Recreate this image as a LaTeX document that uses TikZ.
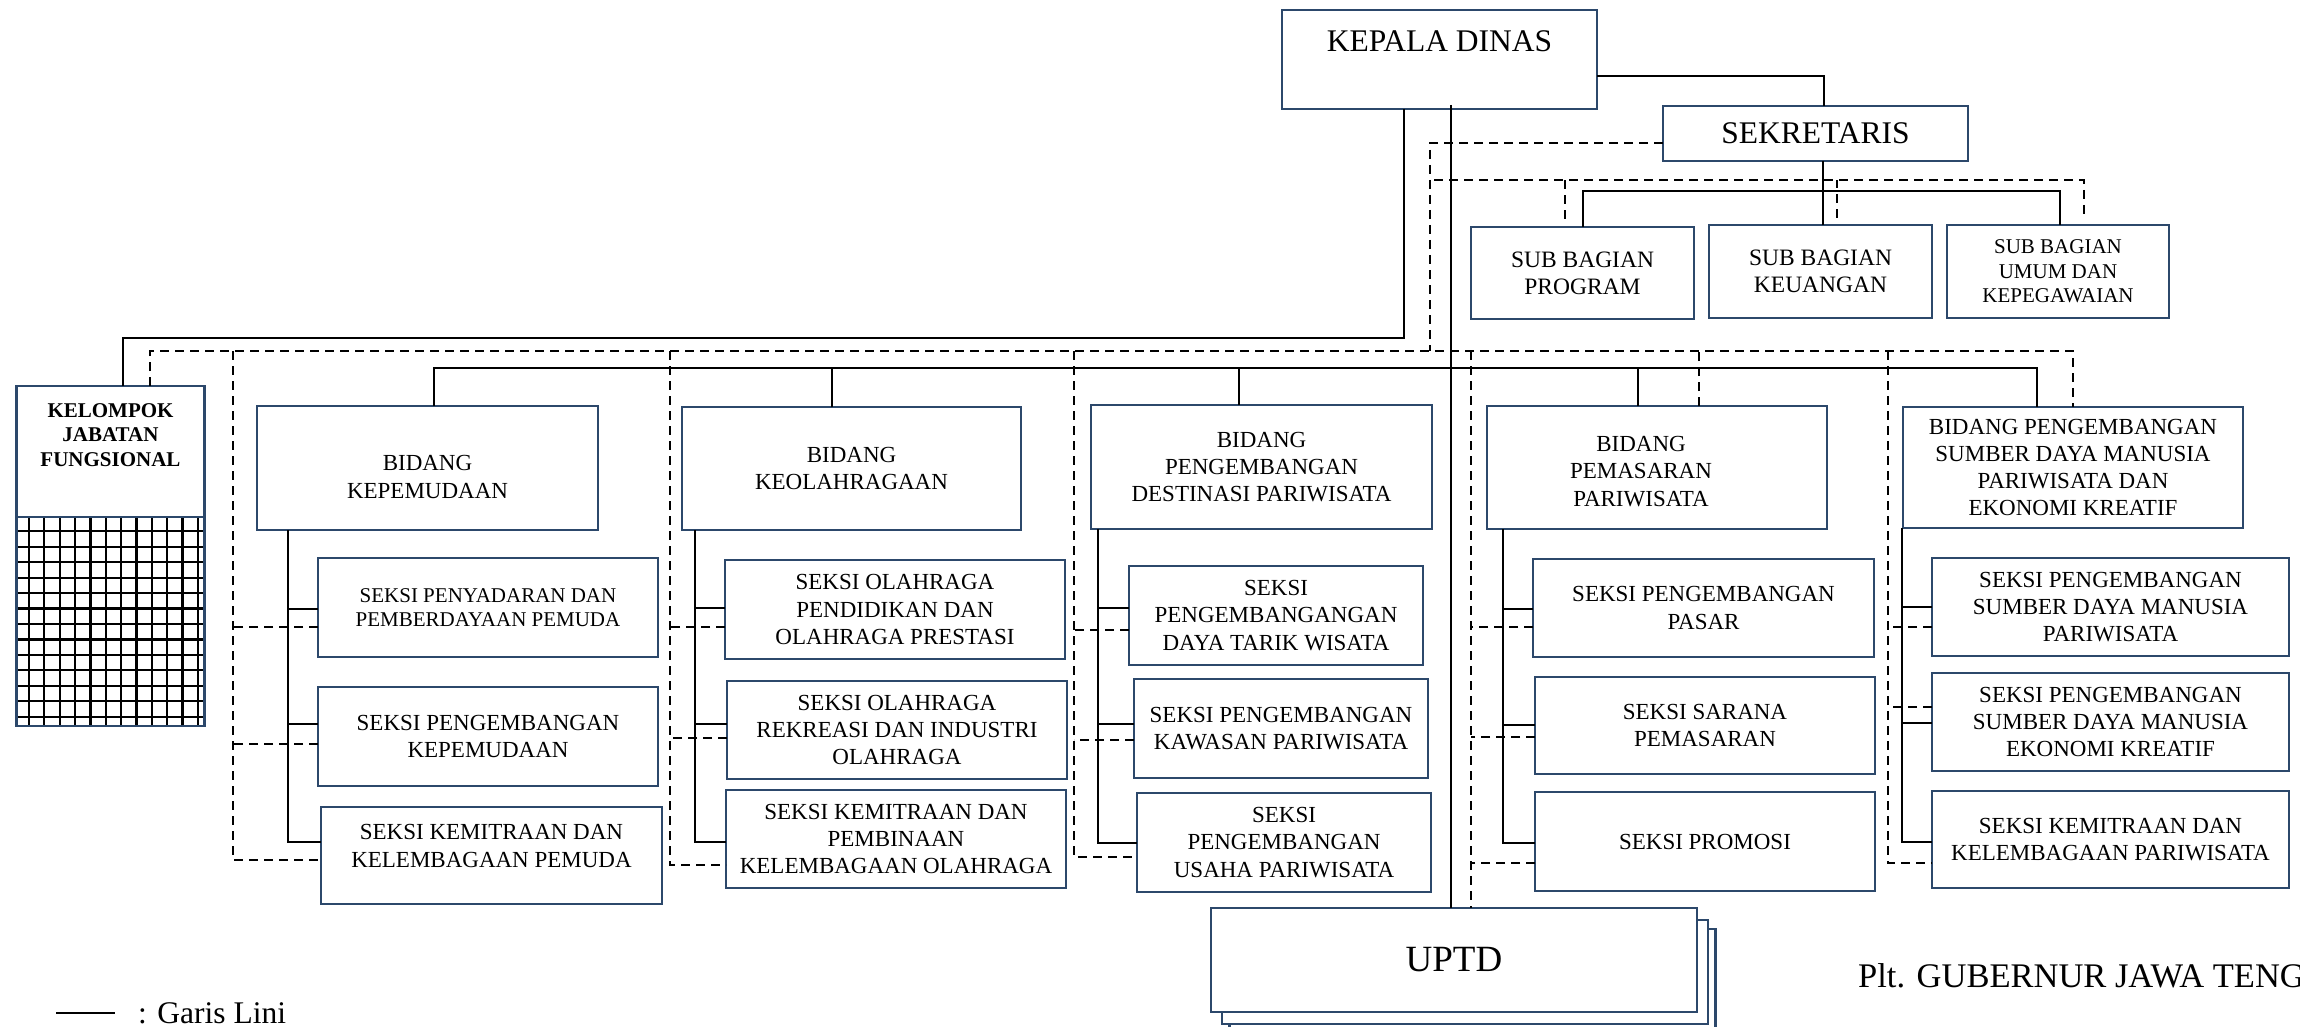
\documentclass[tikz,border=0pt]{standalone}
\usepackage{fontspec}
\setmainfont{Liberation Serif}
\usetikzlibrary{positioning}
\definecolor{boxline}{RGB}{44,72,107}

\begin{document}
\begin{tikzpicture}[x=1pt, y=-1pt,
  box/.style={draw=boxline, line width=2.6pt, fill=white, align=center, inner sep=0pt, outer sep=0pt, font=\fontsize{23}{27.3}\selectfont},
  wh/.style 2 args={minimum width=#1, minimum height=#2},
  txt/.style={align=center, inner sep=0pt, font=\fontsize{23}{27.3}\selectfont},
  line/.style={line width=2pt},
  dline/.style={line width=2pt, dash pattern=on 9pt off 6pt},
  gridline/.style={line width=2.2pt}]

\useasboundingbox[fill=white] (0,0) rectangle (2300,1027);

%%% Pimpinan

\node[box, wh={315}{99}] (kd) at (1439.5,59.5) {};
\node[txt, font=\fontsize{31.5}{36}\selectfont] (kdtext) at ([yshift=-31pt]kd.north) {KEPALA DINAS};
\node[box, wh={305}{55}, font=\fontsize{31.5}{36}\selectfont] (sek) at (1815.5,133.5) {SEKRETARIS};

% Sub bagian
\node[box, wh={223}{92}, font=\fontsize{23.5}{26.7}\selectfont] (sbp) at (1582.5,273) {SUB BAGIAN\\PROGRAM};
\node[box, wh={223}{93}, font=\fontsize{23.5}{26.7}\selectfont] (sbk) at (1820.5,271.5) {SUB BAGIAN\\KEUANGAN};
\node[box, wh={222}{93}, font=\fontsize{21}{24.5}\selectfont] (sbu) at (2058,271.5) {SUB BAGIAN\\UMUM DAN\\KEPEGAWAIAN};

% Kelompok jabatan fungsional
\node[box, wh={188}{131}] (jf) at (110.5,451.5) {};
\node[txt, font=\bfseries\fontsize{21}{24.2}\selectfont] (jftext) at ([yshift=-49pt]jf.north) {KELOMPOK\\JABATAN\\FUNGSIONAL};
\node[box, wh={188}{209}, below=0pt of jf] (jfgrid) {};
\begin{scope}
\clip (jfgrid.south west) rectangle (jfgrid.north east);
\foreach \i in {0,...,11}
  \draw[gridline] (29+15.35*\i,517) -- (29+15.35*\i,726);
\foreach \j in {0,...,12}
  \draw[gridline] (16.5,531.3+15.45*\j) -- (204.5,531.3+15.45*\j);
\end{scope}
\draw[boxline, line width=2.6pt] (jfgrid.south west) rectangle (jfgrid.north east);

%%% Bidang

\node[box, wh={341}{124}] (b1) at (427.5,468) {};
\node[txt] (b1text) at ([yshift=-9pt]b1.center) {BIDANG\\KEPEMUDAAN};
\node[box, wh={339}{123}] (b2) at (851.5,468.5) {BIDANG\\KEOLAHRAGAAN};
\node[box, wh={341}{124}] (b3) at (1261.5,467) {BIDANG\\PENGEMBANGAN\\DESTINASI PARIWISATA};
\node[box, wh={340}{123}] (b4) at (1657,467.5) {};
\node[txt] (b4text) at ([xshift=-16pt, yshift=-4pt]b4.center) {BIDANG\\PEMASARAN\\PARIWISATA};
\node[box, wh={340}{121}] (b5) at (2073,467.5) {BIDANG PENGEMBANGAN\\SUMBER DAYA MANUSIA\\PARIWISATA DAN\\EKONOMI KREATIF};

% Seksi 1
\node[box, wh={340}{99}, font=\fontsize{21}{24}\selectfont] (s11) at (488,607.5) {SEKSI PENYADARAN DAN\\PEMBERDAYAAN PEMUDA};
\node[box, wh={340}{99}] (s12) at (488,736.5) {SEKSI PENGEMBANGAN\\KEPEMUDAAN};
\node[box, wh={341}{97}] (s13) at (491.5,855.5) {};
\node[txt] (s13text) at ([yshift=9.5pt]s13.center) {SEKSI KEMITRAAN DAN\\KELEMBAGAAN PEMUDA};

% Seksi 2
\node[box, wh={340}{99}] (s21) at (895,609.5) {SEKSI OLAHRAGA\\PENDIDIKAN DAN\\OLAHRAGA PRESTASI};
\node[box, wh={340}{98}] (s22) at (897,730) {SEKSI OLAHRAGA\\REKREASI DAN INDUSTRI\\OLAHRAGA};
\node[box, wh={340}{98}] (s23) at (896,839) {SEKSI KEMITRAAN DAN\\PEMBINAAN\\KELEMBAGAAN OLAHRAGA};

% Seksi 3
\node[box, wh={294}{99}] (s31) at (1276,615.5) {SEKSI\\PENGEMBANGANGAN\\DAYA TARIK WISATA};
\node[box, wh={294}{99}] (s32) at (1281,728.5) {SEKSI PENGEMBANGAN\\KAWASAN PARIWISATA};
\node[box, wh={294}{99}] (s33) at (1284,842.5) {SEKSI\\PENGEMBANGAN\\USAHA PARIWISATA};

% Seksi 4
\node[box, wh={341}{98}] (s41) at (1703.5,608) {SEKSI PENGEMBANGAN\\PASAR};
\node[box, wh={340}{97}] (s42) at (1705,725.5) {SEKSI SARANA\\PEMASARAN};
\node[box, wh={340}{99}] (s43) at (1705,841.5) {SEKSI PROMOSI};

% Seksi 5
\node[box, wh={357}{98}] (s51) at (2110.5,607) {SEKSI PENGEMBANGAN\\SUMBER DAYA MANUSIA\\PARIWISATA};
\node[box, wh={357}{98}] (s52) at (2110.5,722) {SEKSI PENGEMBANGAN\\SUMBER DAYA MANUSIA\\EKONOMI KREATIF};
\node[box, wh={357}{97}] (s53) at (2110.5,839.5) {SEKSI KEMITRAAN DAN\\KELEMBAGAAN PARIWISATA};

%%% UPTD

\coordinate (up) at (1454,960);
\node[box, wh={486}{104}] (uptd3) at ([shift={(18.5,21)}]up) {};
\node[box, wh={486}{104}] (uptd2) at ([shift={(11,12)}]up) {};
\node[box, wh={486}{104}, font=\fontsize{37}{40}\selectfont] (uptd) at (up) {UPTD};

\node[anchor=base west, inner sep=0pt, font=\fontsize{34.5}{37}\selectfont] (gub) at (1858,987) {Plt. GUBERNUR JAWA TENGAH};

%%% Garis lini

\draw[line] ([yshift=-16.5pt]kd.east) -| ([xshift=8.5pt]sek.north);
\draw[line] ([xshift=7.5pt]sek.south) -- ([xshift=7.5pt]sek.south |- sbk.north);
\draw[line] (sbp.north) -- ++(0,-36) -| ([xshift=2pt]sbu.north);
\draw[line] ([xshift=-35.5pt]kd.south) -- ++(0,229) -| ([xshift=12.5pt]jf.north);
\draw[line] ([xshift=11.5pt, yshift=4pt]kd.south) -- ([xshift=11.5pt]kd.south |- uptd.north);

\draw[line] ([xshift=6.5pt]b1.north) -- ++(0,-38) -| ([xshift=-36pt]b5.north);
\foreach \b/\dx in {b2/-19.5, b3/-22.5, b4/-19}
  \draw[line] ([xshift=\dx pt]\b.north) -- ++(0,-38);

\foreach \s/\dy in {s11/-1.5, s12/12.5, s13/13.5}
  \draw[line] ([xshift=31pt]b1.south west) |- ([yshift=\dy pt]\s.west);
\foreach \s/\dy in {s21/1.5, s22/6, s23/-3}
  \draw[line] ([xshift=13pt]b2.south west) |- ([yshift=\dy pt]\s.west);
\foreach \s/\dy in {s31/7.5, s32/4.5, s33/-0.5}
  \draw[line] ([xshift=7pt]b3.south west) |- ([yshift=\dy pt]\s.west);
\foreach \s/\dy in {s41/-1, s42/0.5, s43/-1.5}
  \draw[line] ([xshift=16pt]b4.south west) |- ([yshift=\dy pt]\s.west);
\foreach \s/\dy in {s51/0, s52/-1, s53/-2.5}
  \draw[line] ([xshift=-1pt]b5.south west) |- ([yshift=\dy pt]\s.west);

%%% Garis koordinasi

\draw[dline] ([xshift=39.5pt]jf.north) -- ++(0,-35) -| (b5.north);
\coordinate (d0) at (1430,351);
\coordinate (d1) at (233,351);
\coordinate (d2) at (670,351);
\coordinate (d3) at (1074,351);
\coordinate (d4) at (1471,351);
\coordinate (d5) at (1888,351);
\coordinate (ds) at (1434,180);

\draw[dline] ([yshift=-9.5pt]sek.west) -| (d0);
\draw[dline] (ds) -| ([xshift=26pt, yshift=7pt]sbu.north);
\draw[dline] ([xshift=-17.5pt, yshift=8pt]sbp.north) -- ++(0,-39);
\draw[dline] ([xshift=16.5pt, yshift=7pt]sbk.north) -- ++(0,-38);
\draw[dline] ([xshift=42pt]b4.north) -- ++(0,-55);

\draw[dline] (d1) |- ([yshift=-4.5pt]s13.west);
\foreach \s/\dy/\len in {s11/-19.5/85, s12/-7.5/85}
  \draw[dline] ([yshift=\dy pt]\s.west) -- ++(-\len,0);
\draw[dline] (d2) |- ([yshift=-26pt]s23.west);
\foreach \s/\dy/\len in {s21/-17.5/55, s22/-8/57}
  \draw[dline] ([yshift=\dy pt]\s.west) -- ++(-\len,0);
\draw[dline] (d3) |- ([yshift=-14.5pt]s33.west);
\foreach \s/\dy/\len in {s31/-14.5/55, s32/-11.5/60}
  \draw[dline] ([yshift=\dy pt]\s.west) -- ++(-\len,0);
\draw[dline] (d4) -- (d4 |- uptd.north);
\foreach \s/\dy/\len in {s41/-19/62, s42/-11.5/64, s43/-21.5/64}
  \draw[dline] ([yshift=\dy pt]\s.west) -- ++(-\len,0);
\draw[dline] (d5) |- ([yshift=-23.5pt]s53.west);
\foreach \s/\dy/\len in {s51/-20/44, s52/15/44}
  \draw[dline] ([yshift=\dy pt]\s.west) -- ++(-\len,0);

% keterangan
\draw[line] (56,1013) -- (115,1013);
\node[anchor=base west, inner sep=0pt, font=\fontsize{31.5}{34}\selectfont] (legend) at (138,1023) {: Garis Lini};

\end{tikzpicture}
\end{document}
